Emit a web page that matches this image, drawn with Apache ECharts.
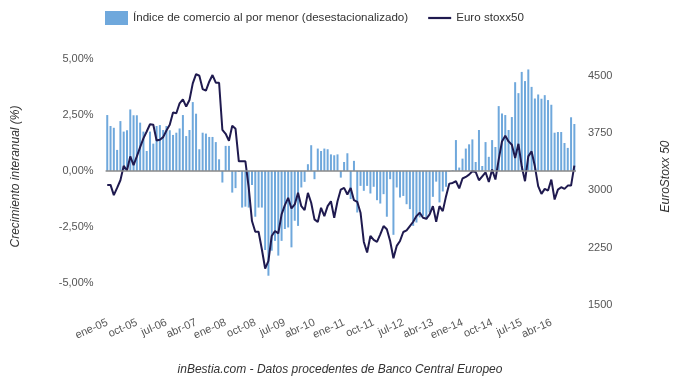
<!DOCTYPE html>
<html><head><meta charset="utf-8">
<script src="https://cdn.jsdelivr.net/npm/echarts@6/dist/echarts.min.js"></script>
<style>html,body{margin:0;padding:0;background:#fff}#c{width:680px;height:377px}</style>
</head><body><div id="c"></div>
<script>
// ---- data ----
const monthNames = ['ene','feb','mar','abr','may','jun','jul','ago','sep','oct','nov','dic'];
const firstYear = 5;          // 2005
const monthCount = 143;       // ene-05 ... nov-16

// Retail trade index, year-on-year growth (%)
const retail = [
  2.50, 2.01, 1.93, 0.94, 2.23, 1.76, 1.82, 2.75, 2.49, 2.49, 2.16, 1.76,
  0.89, 1.76, 1.22, 2.01, 2.05, 1.83, 2.01, 1.82, 1.61, 1.71, 1.90, 2.50,
  1.56, 1.83, 3.08, 2.56, 0.97, 1.71, 1.67, 1.52, 1.52, 1.29, 0.52, -0.52,
  1.12, 1.12, -0.97, -0.77, -0.05, -1.64, -1.60, -1.64, -0.63, -2.05, -1.64, -1.64,
  -3.54, -4.69, -3.57, -3.13, -3.79, -3.13, -2.60, -2.53, -3.42, -2.23, -2.46, -0.74,
  -0.49, 0.30, 1.15, -0.37, 1.00, 0.89, 1.00, 0.97, 0.74, 0.70, 0.74, -0.30,
  0.40, 0.79, -1.26, 0.45, -1.86, -0.67, -0.89, -0.67, -1.01, -0.71, -1.31, -1.46,
  -1.04, -2.05, -0.37, -2.86, -0.74, -1.19, -1.12, -1.49, -1.71, -2.46, -2.31, -2.08,
  -2.01, -2.16, -1.86, -1.16, -0.48, -1.41, -0.92, -0.71, -0.03, 0.03, 1.38,
  0.15, 0.55, 1.00, 1.19, 1.41, 0.40, 1.83, 0.22, 1.29, 0.63, 1.38, 1.07,
  2.90, 2.57, 2.50, 1.83, 2.41, 3.97, 3.48, 4.43, 4.02, 4.54, 3.76, 3.24,
  3.42, 3.23, 3.39, 3.17, 2.96, 1.71, 1.74, 1.74, 1.25, 1.03, 2.40, 2.10
];

// Euro Stoxx 50 level
const stoxx = [
  3071, 3071, 2937, 3032, 3132, 3320, 3260, 3444, 3331, 3444, 3566, 3679,
  3770, 3865, 3857, 3653, 3661, 3696, 3783, 3857, 4017, 4009, 4139, 4191,
  4096, 4182, 4399, 4521, 4499, 4325, 4304, 4421, 4508, 4408, 4408, 3792,
  3740, 3648, 3844, 3805, 3379, 3379, 3379, 3040, 2598, 2459, 2459, 2229,
  1977, 2077, 2403, 2468, 2437, 2685, 2806, 2902, 2763, 2815, 2967, 2793,
  2741, 2967, 2837, 2620, 2585, 2772, 2663, 2793, 2858, 2641, 2858, 3010,
  3032, 2945, 3032, 2871, 2850, 2707, 2325, 2186, 2403, 2351, 2325, 2424,
  2533, 2490, 2338, 2112, 2273, 2338, 2455, 2477, 2533, 2589, 2663, 2707,
  2641, 2628, 2685, 2793, 2589, 2793, 2728, 2924, 3088, 3097, 3119, 3025,
  3155, 3175, 3206, 3249, 3240, 3132, 3184, 3236, 3110, 3271, 3141, 3401,
  3640, 3713, 3640, 3596, 3423, 3609, 3314, 3119, 3445, 3509, 3314, 3054,
  2954, 3019, 2997, 3140, 2880, 3010, 3041, 3019, 3062, 3062, 3323
];

const leftTicks = [-5, -2.5, 0, 2.5, 5];
const rightTicks = [1500, 2250, 3000, 3750, 4500];
const xLabelStep = 9;

const seriesNames = ['Índice de comercio al por menor (desestacionalizado)', 'Euro stoxx50'];
const leftName = 'Crecimiento interanual (%)';
const rightName = 'EuroStoxx 50';
const footer = 'inBestia.com - Datos procedentes de Banco Central Europeo';

// ---- build ----
const categories = [];
for (let i = 0; i < monthCount; i++) {
  const y = firstYear + Math.floor(i / 12);
  categories.push(monthNames[i % 12] + '-' + String(y).padStart(2, '0'));
}
const isTick = (arr, v) => arr.some(t => Math.abs(t - v) < 1e-6);
const font = 'Liberation Sans, Arial, sans-serif';
const barColor = '#6fa8dc';
const lineColor = '#1f1a4f';

const chart = echarts.init(document.getElementById('c'), null, {renderer: 'canvas'});
chart.setOption({
  animation: false,
  backgroundColor: '#fff',
  textStyle: {fontFamily: font},
  title: {
    text: footer, left: 'center', top: 359,
    textStyle: {fontSize: 12, fontStyle: 'italic', fontWeight: 'normal', color: '#333', fontFamily: font}
  },
  legend: {
    left: 100, top: 6, itemWidth: 23, itemHeight: 14, itemGap: 20,
    symbolKeepAspect: true,
    textStyle: {fontSize: 11.6, color: '#333', fontFamily: font},
    data: [
      {name: seriesNames[0], icon: 'rect'},
      {name: seriesNames[1], icon: 'path://M0,0L23,0L23,2.2L0,2.2Z', itemStyle: {color: lineColor}}
    ]
  },
  grid: {left: 105.6, right: 100, top: 48, bottom: 72},
  xAxis: {
    type: 'category', data: categories, boundaryGap: true,
    axisLine: {show: false, onZero: false}, axisTick: {show: false},
    splitLine: {show: false},
    axisLabel: {
      interval: (idx) => idx % xLabelStep === 0,
      showMinLabel: true, showMaxLabel: true,
      rotate: 24, margin: 17, fontSize: 11, color: '#555', fontFamily: font
    }
  },
  yAxis: [{
    type: 'value', position: 'left', min: -6, max: 5.5, interval: 0.5,
    splitLine: {show: false}, axisLine: {show: false}, axisTick: {show: false},
    axisLabel: {
      margin: 12, fontSize: 11, color: '#555', fontFamily: font,
      formatter: v => isTick(leftTicks, v) ? v.toFixed(2).replace('.', ',') + '%' : ''
    },
    name: leftName, nameLocation: 'middle', nameGap: 84,
    nameTextStyle: {fontStyle: 'italic', fontSize: 12, color: '#333', fontFamily: font}
  }, {
    type: 'value', position: 'right', min: 1500, max: 4862, interval: 750,
    splitLine: {show: false}, axisLine: {show: false}, axisTick: {show: false},
    axisLabel: {
      margin: 12, fontSize: 11, color: '#555', fontFamily: font,
      formatter: v => isTick(rightTicks, v) ? String(v) : ''
    },
    name: rightName, nameLocation: 'middle', nameGap: 84,
    nameTextStyle: {fontStyle: 'italic', fontSize: 12, color: '#333', fontFamily: font}
  }],
  series: [{
    name: seriesNames[0], type: 'bar', yAxisIndex: 0, data: retail,
    barWidth: 2, itemStyle: {color: barColor},
    markLine: {
      silent: true, symbol: 'none', label: {show: false},
      lineStyle: {color: '#888', width: 1.5, type: 'solid'},
      data: [{yAxis: 0}]
    }
  }, {
    name: seriesNames[1], type: 'line', yAxisIndex: 1, data: stoxx,
    symbol: 'none', lineStyle: {color: lineColor, width: 2}, itemStyle: {color: lineColor}, z: 3
  }]
});
</script>
</body></html>
